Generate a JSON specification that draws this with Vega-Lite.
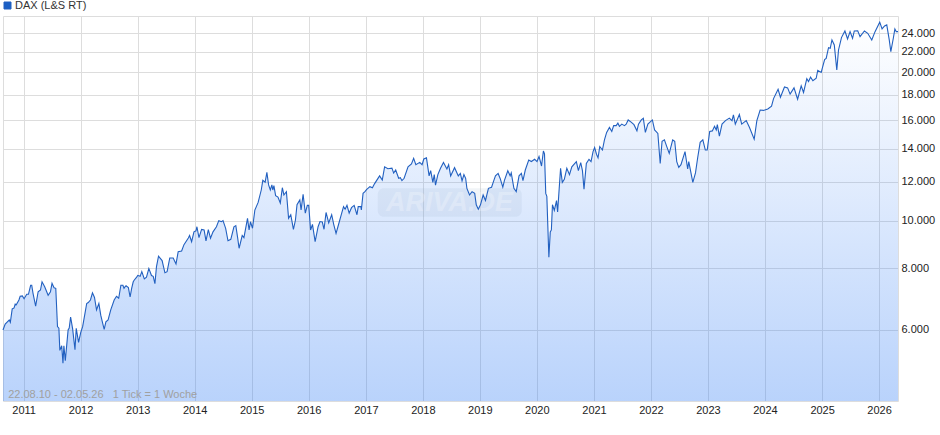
{
  "$schema": "https://vega.github.io/schema/vega-lite/v6.json",
  "autosize": "none",
  "width": 895,
  "height": 385,
  "padding": {"left": 3, "top": 16, "right": 42, "bottom": 34},
  "background": "white",
  "data": {"values": [
    {"d":"2010-08-22","v":6000},{"d":"2010-09-05","v":6170},{"d":"2010-09-19","v":6235},{"d":"2010-10-01","v":6287},{"d":"2010-10-08","v":6217},{"d":"2010-10-20","v":6620},{"d":"2010-11-01","v":6650},{"d":"2010-11-08","v":6770},{"d":"2010-11-15","v":6750},{"d":"2010-12-02","v":6903},{"d":"2010-12-10","v":7025},{"d":"2010-12-24","v":7035},
    {"d":"2011-01-04","v":6945},{"d":"2011-01-21","v":7090},{"d":"2011-02-01","v":7090},{"d":"2011-02-15","v":7395},{"d":"2011-02-22","v":7395},{"d":"2011-03-02","v":7130},{"d":"2011-03-19","v":6710},{"d":"2011-04-04","v":7175},{"d":"2011-04-19","v":7233},{"d":"2011-04-29","v":7515},{"d":"2011-05-16","v":7340},{"d":"2011-06-07","v":7055},{"d":"2011-06-22","v":7175},{"d":"2011-07-02","v":7460},{"d":"2011-07-15","v":7310},{"d":"2011-07-26","v":7290},{"d":"2011-08-06","v":6095},{"d":"2011-08-15","v":6050},{"d":"2011-08-21","v":5455},{"d":"2011-09-02","v":5575},{"d":"2011-09-10","v":5140},{"d":"2011-09-16","v":5575},{"d":"2011-09-25","v":5200},{"d":"2011-10-13","v":6000},{"d":"2011-10-20","v":6055},{"d":"2011-10-29","v":6375},{"d":"2011-11-11","v":6030},{"d":"2011-11-26","v":5470},{"d":"2011-12-04","v":6050},{"d":"2011-12-19","v":5665},
    {"d":"2012-01-02","v":5935},{"d":"2012-01-14","v":6095},{"d":"2012-01-29","v":6485},{"d":"2012-02-09","v":6790},{"d":"2012-02-19","v":6820},{"d":"2012-03-04","v":6903},{"d":"2012-03-17","v":7140},{"d":"2012-03-30","v":6985},{"d":"2012-04-12","v":6590},{"d":"2012-04-27","v":6790},{"d":"2012-05-09","v":6430},{"d":"2012-05-20","v":6215},{"d":"2012-05-31","v":6020},{"d":"2012-06-11","v":6235},{"d":"2012-06-25","v":6287},{"d":"2012-07-12","v":6590},{"d":"2012-08-03","v":6903},{"d":"2012-08-18","v":7025},{"d":"2012-09-01","v":6960},{"d":"2012-09-15","v":7395},{"d":"2012-09-28","v":7395},{"d":"2012-10-05","v":7290},{"d":"2012-10-11","v":7340},{"d":"2012-10-18","v":7375},{"d":"2012-11-02","v":7315},{"d":"2012-11-13","v":7000},{"d":"2012-11-23","v":7290},{"d":"2012-12-03","v":7515},{"d":"2012-12-10","v":7580},{"d":"2012-12-25","v":7680},
    {"d":"2013-01-01","v":7745},{"d":"2013-01-16","v":7710},{"d":"2013-01-27","v":7880},{"d":"2013-02-12","v":7620},{"d":"2013-02-26","v":7680},{"d":"2013-03-13","v":8000},{"d":"2013-03-30","v":7740},{"d":"2013-04-10","v":7710},{"d":"2013-04-21","v":7450},{"d":"2013-05-01","v":8070},{"d":"2013-05-14","v":8470},{"d":"2013-06-06","v":8300},{"d":"2013-06-24","v":7840},{"d":"2013-07-08","v":7880},{"d":"2013-07-25","v":8400},{"d":"2013-08-16","v":8400},{"d":"2013-09-03","v":8170},{"d":"2013-09-17","v":8650},{"d":"2013-10-09","v":8680},{"d":"2013-10-24","v":8940},{"d":"2013-11-21","v":9220},{"d":"2013-11-29","v":9330},{"d":"2013-12-12","v":9065},{"d":"2013-12-27","v":9490},
    {"d":"2014-01-09","v":9535},{"d":"2014-01-15","v":9720},{"d":"2014-01-28","v":9235},{"d":"2014-02-14","v":9600},{"d":"2014-03-02","v":9575},{"d":"2014-03-14","v":9100},{"d":"2014-03-29","v":9590},{"d":"2014-04-12","v":9210},{"d":"2014-04-28","v":9490},{"d":"2014-05-20","v":9720},{"d":"2014-06-04","v":10000},{"d":"2014-06-21","v":9950},{"d":"2014-07-01","v":10000},{"d":"2014-07-18","v":9650},{"d":"2014-08-02","v":9105},{"d":"2014-08-20","v":9165},{"d":"2014-09-09","v":9720},{"d":"2014-09-21","v":9770},{"d":"2014-10-02","v":9270},{"d":"2014-10-12","v":8790},{"d":"2014-11-01","v":9330},{"d":"2014-11-12","v":9235},{"d":"2014-12-05","v":10110},{"d":"2014-12-15","v":9575},{"d":"2014-12-24","v":9950},
    {"d":"2015-01-06","v":9650},{"d":"2015-01-21","v":10510},{"d":"2015-02-11","v":10890},{"d":"2015-03-03","v":11540},{"d":"2015-03-13","v":12075},{"d":"2015-03-28","v":11970},{"d":"2015-04-08","v":12530},{"d":"2015-04-19","v":11820},{"d":"2015-04-30","v":11540},{"d":"2015-05-10","v":11820},{"d":"2015-05-16","v":11540},{"d":"2015-05-23","v":11775},{"d":"2015-06-03","v":11240},{"d":"2015-06-18","v":11165},{"d":"2015-07-03","v":10860},{"d":"2015-07-16","v":11665},{"d":"2015-07-26","v":11275},{"d":"2015-08-11","v":11450},{"d":"2015-08-25","v":10110},{"d":"2015-09-08","v":10280},{"d":"2015-09-25","v":9600},{"d":"2015-10-08","v":10030},{"d":"2015-10-18","v":10770},{"d":"2015-11-05","v":11015},{"d":"2015-11-13","v":10510},{"d":"2015-11-26","v":11310},{"d":"2015-12-10","v":10360},{"d":"2015-12-23","v":10740},
    {"d":"2016-01-01","v":10740},{"d":"2016-01-13","v":9575},{"d":"2016-01-25","v":9830},{"d":"2016-02-11","v":9065},{"d":"2016-03-01","v":9720},{"d":"2016-03-13","v":9960},{"d":"2016-03-28","v":9935},{"d":"2016-04-08","v":9605},{"d":"2016-04-21","v":10390},{"d":"2016-05-08","v":9900},{"d":"2016-05-27","v":10280},{"d":"2016-06-09","v":9830},{"d":"2016-06-24","v":9420},{"d":"2016-07-06","v":9720},{"d":"2016-07-28","v":10300},{"d":"2016-08-11","v":10680},{"d":"2016-08-21","v":10550},{"d":"2016-09-02","v":10740},{"d":"2016-09-16","v":10360},{"d":"2016-10-01","v":10625},{"d":"2016-10-18","v":10740},{"d":"2016-11-05","v":10280},{"d":"2016-11-13","v":10680},{"d":"2016-11-30","v":10680},{"d":"2016-12-03","v":10510},{"d":"2016-12-14","v":11360},{"d":"2016-12-26","v":11450},
    {"d":"2017-01-05","v":11560},{"d":"2017-01-27","v":11720},{"d":"2017-02-12","v":11660},{"d":"2017-02-26","v":11890},{"d":"2017-03-30","v":12330},{"d":"2017-04-16","v":12090},{"d":"2017-05-01","v":12860},{"d":"2017-05-22","v":12750},{"d":"2017-06-17","v":12780},{"d":"2017-06-28","v":12490},{"d":"2017-07-11","v":12670},{"d":"2017-07-30","v":12190},{"d":"2017-08-10","v":12220},{"d":"2017-08-20","v":12055},{"d":"2017-09-03","v":12190},{"d":"2017-09-28","v":12860},{"d":"2017-10-20","v":13030},{"d":"2017-11-03","v":13380},{"d":"2017-11-17","v":12990},{"d":"2017-12-12","v":13130},{"d":"2017-12-27","v":12990},
    {"d":"2018-01-07","v":13340},{"d":"2018-01-24","v":13410},{"d":"2018-02-10","v":12325},{"d":"2018-02-20","v":12630},{"d":"2018-03-06","v":11960},{"d":"2018-03-15","v":12400},{"d":"2018-03-23","v":11810},{"d":"2018-04-07","v":12400},{"d":"2018-04-24","v":12770},{"d":"2018-05-13","v":13130},{"d":"2018-06-04","v":12730},{"d":"2018-06-15","v":12990},{"d":"2018-06-28","v":12325},{"d":"2018-07-23","v":12810},{"d":"2018-08-16","v":12325},{"d":"2018-08-29","v":12470},{"d":"2018-09-09","v":12040},{"d":"2018-09-21","v":12400},{"d":"2018-10-02","v":12190},{"d":"2018-10-10","v":11630},{"d":"2018-10-27","v":11275},{"d":"2018-11-12","v":11450},{"d":"2018-11-29","v":11360},{"d":"2018-12-09","v":10770},{"d":"2018-12-22","v":10550},
    {"d":"2019-01-05","v":10770},{"d":"2019-01-22","v":11275},{"d":"2019-02-06","v":10990},{"d":"2019-02-25","v":11630},{"d":"2019-03-17","v":11690},{"d":"2019-03-29","v":12000},{"d":"2019-04-11","v":12330},{"d":"2019-04-28","v":12470},{"d":"2019-05-11","v":12180},{"d":"2019-05-28","v":11690},{"d":"2019-06-08","v":12090},{"d":"2019-06-29","v":12630},{"d":"2019-07-14","v":12330},{"d":"2019-07-21","v":12500},{"d":"2019-08-07","v":11630},{"d":"2019-08-22","v":11450},{"d":"2019-09-09","v":12330},{"d":"2019-09-24","v":12470},{"d":"2019-10-04","v":12055},{"d":"2019-10-19","v":12670},{"d":"2019-11-10","v":13280},{"d":"2019-11-27","v":13180},{"d":"2019-12-18","v":13320},
    {"d":"2020-01-02","v":13180},{"d":"2020-01-15","v":13500},{"d":"2020-01-31","v":12910},{"d":"2020-02-12","v":13850},{"d":"2020-02-19","v":13670},{"d":"2020-02-27","v":11360},{"d":"2020-03-05","v":11200},{"d":"2020-03-18","v":8430},{"d":"2020-03-27","v":9490},{"d":"2020-04-03","v":9575},{"d":"2020-04-10","v":10770},{"d":"2020-04-22","v":10490},{"d":"2020-05-06","v":10980},{"d":"2020-05-13","v":10420},{"d":"2020-06-01","v":12770},{"d":"2020-06-12","v":11960},{"d":"2020-06-25","v":12130},{"d":"2020-07-11","v":12770},{"d":"2020-07-28","v":12400},{"d":"2020-08-12","v":12860},{"d":"2020-09-10","v":13180},{"d":"2020-09-23","v":12630},{"d":"2020-10-08","v":13110},{"d":"2020-10-19","v":12630},{"d":"2020-10-29","v":11590},{"d":"2020-11-13","v":13060},{"d":"2020-11-30","v":13320},{"d":"2020-12-13","v":13180},{"d":"2020-12-26","v":13810},
    {"d":"2021-01-05","v":14080},{"d":"2021-01-17","v":13640},{"d":"2021-01-27","v":13410},{"d":"2021-02-07","v":14140},{"d":"2021-02-24","v":13910},{"d":"2021-03-09","v":14590},{"d":"2021-03-23","v":15100},{"d":"2021-04-10","v":15460},{"d":"2021-04-25","v":15170},{"d":"2021-05-07","v":15590},{"d":"2021-05-23","v":15590},{"d":"2021-06-03","v":15770},{"d":"2021-06-13","v":15540},{"d":"2021-06-28","v":15700},{"d":"2021-07-15","v":15590},{"d":"2021-07-26","v":15700},{"d":"2021-08-08","v":16010},{"d":"2021-08-27","v":15850},{"d":"2021-09-14","v":15660},{"d":"2021-10-03","v":15220},{"d":"2021-10-13","v":15700},{"d":"2021-10-31","v":16010},{"d":"2021-11-13","v":16130},{"d":"2021-11-26","v":15100},{"d":"2021-12-12","v":15700},
    {"d":"2022-01-10","v":16010},{"d":"2022-01-24","v":15280},{"d":"2022-02-14","v":15030},{"d":"2022-03-01","v":13060},{"d":"2022-03-13","v":14490},{"d":"2022-03-28","v":14590},{"d":"2022-04-11","v":14170},{"d":"2022-04-28","v":13690},{"d":"2022-05-20","v":14580},{"d":"2022-06-02","v":14490},{"d":"2022-06-15","v":13180},{"d":"2022-06-28","v":12830},{"d":"2022-07-12","v":12990},{"d":"2022-08-07","v":13810},{"d":"2022-08-24","v":12730},{"d":"2022-08-31","v":13180},{"d":"2022-09-26","v":11960},{"d":"2022-10-13","v":12500},{"d":"2022-10-27","v":13420},{"d":"2022-11-12","v":14420},{"d":"2022-11-29","v":14590},{"d":"2022-12-15","v":13910},{"d":"2022-12-27","v":13910},
    {"d":"2023-01-12","v":15170},{"d":"2023-01-29","v":15210},{"d":"2023-02-12","v":15540},{"d":"2023-02-23","v":15280},{"d":"2023-03-02","v":15660},{"d":"2023-03-15","v":14850},{"d":"2023-04-01","v":15700},{"d":"2023-04-23","v":15960},{"d":"2023-05-18","v":16150},{"d":"2023-06-04","v":15960},{"d":"2023-06-13","v":16390},{"d":"2023-06-25","v":15700},{"d":"2023-07-21","v":16420},{"d":"2023-08-05","v":15700},{"d":"2023-09-03","v":15960},{"d":"2023-09-24","v":15450},{"d":"2023-10-24","v":14630},{"d":"2023-11-10","v":15960},{"d":"2023-12-01","v":16770},{"d":"2023-12-22","v":16740},
    {"d":"2024-01-19","v":16850},{"d":"2024-02-12","v":17070},{"d":"2024-02-25","v":17690},{"d":"2024-03-25","v":18480},{"d":"2024-04-09","v":17800},{"d":"2024-05-05","v":18680},{"d":"2024-05-25","v":18600},{"d":"2024-06-10","v":18060},{"d":"2024-07-05","v":18600},{"d":"2024-07-28","v":17640},{"d":"2024-08-20","v":18780},{"d":"2024-09-04","v":18200},{"d":"2024-09-25","v":19410},{"d":"2024-10-06","v":19160},{"d":"2024-10-19","v":19560},{"d":"2024-11-03","v":19230},{"d":"2024-11-24","v":19450},{"d":"2024-12-04","v":20190},{"d":"2024-12-26","v":19990},
    {"d":"2025-01-17","v":21230},{"d":"2025-01-27","v":21350},{"d":"2025-02-11","v":22443},{"d":"2025-02-22","v":22375},{"d":"2025-03-05","v":23265},{"d":"2025-03-20","v":22730},{"d":"2025-04-05","v":20222},{"d":"2025-04-16","v":22200},{"d":"2025-05-05","v":23520},{"d":"2025-05-27","v":24260},{"d":"2025-06-13","v":23370},{"d":"2025-06-29","v":24185},{"d":"2025-07-15","v":23450},{"d":"2025-07-26","v":24260},{"d":"2025-08-17","v":24290},{"d":"2025-09-01","v":23625},{"d":"2025-09-29","v":24260},{"d":"2025-10-20","v":24000},{"d":"2025-11-15","v":23265},{"d":"2025-12-06","v":24185},
    {"d":"2026-01-05","v":25280},{"d":"2026-01-20","v":24500},{"d":"2026-02-05","v":24840},{"d":"2026-02-19","v":24960},{"d":"2026-03-07","v":23265},{"d":"2026-03-17","v":22030},{"d":"2026-04-02","v":23450},{"d":"2026-04-12","v":24500},{"d":"2026-04-21","v":24185},{"d":"2026-05-02","v":24185}
  ]},
  "encoding": {
    "x": {
      "field": "d",
      "type": "temporal",
      "title": null,
      "scale": {
        "type": "utc",
        "domain": [
          {"year": 2010, "month": 8, "date": 22, "utc": true},
          {"year": 2026, "month": 5, "date": 2, "utc": true}
        ]
      },
      "axis": {
        "orient": "bottom",
        "values": [
          {"year": 2011, "month": 1, "date": 1, "utc": true},
          {"year": 2012, "month": 1, "date": 1, "utc": true},
          {"year": 2013, "month": 1, "date": 1, "utc": true},
          {"year": 2014, "month": 1, "date": 1, "utc": true},
          {"year": 2015, "month": 1, "date": 1, "utc": true},
          {"year": 2016, "month": 1, "date": 1, "utc": true},
          {"year": 2017, "month": 1, "date": 1, "utc": true},
          {"year": 2018, "month": 1, "date": 1, "utc": true},
          {"year": 2019, "month": 1, "date": 1, "utc": true},
          {"year": 2020, "month": 1, "date": 1, "utc": true},
          {"year": 2021, "month": 1, "date": 1, "utc": true},
          {"year": 2022, "month": 1, "date": 1, "utc": true},
          {"year": 2023, "month": 1, "date": 1, "utc": true},
          {"year": 2024, "month": 1, "date": 1, "utc": true},
          {"year": 2025, "month": 1, "date": 1, "utc": true},
          {"year": 2026, "month": 1, "date": 1, "utc": true}
        ],
        "format": "%Y",
        "labelOverlap": false,
        "labelFlush": false
      }
    },
    "y": {
      "field": "v",
      "type": "quantitative",
      "title": null,
      "stack": null,
      "scale": {"type": "log", "domain": [4306, 26020], "nice": false},
      "axis": {
        "orient": "right",
        "values": [6000, 8000, 10000, 12000, 14000, 16000, 18000, 20000, 22000, 24000],
        "labelExpr": "replace(format(datum.value, ','), ',', '.')",
        "labelOverlap": false,
        "labelFlush": false
      }
    }
  },
  "layer": [
    {
      "mark": {
        "type": "area",
        "fill": {
          "gradient": "linear",
          "x1": 0, "y1": 0, "x2": 0, "y2": 1,
          "stops": [
            {"offset": 0, "color": "rgba(50,125,245,0)"},
            {"offset": 1, "color": "rgba(50,125,245,0.34)"}
          ]
        }
      },
      "encoding": {"y2": {"datum": 4306}}
    },
    {
      "data": {"values": [{"d": "2017-03-18", "d2": "2019-09-26", "v": 11638, "v2": 10180}]},
      "mark": {"type": "rect", "fill": "#8fa3bf", "opacity": 0.12, "cornerRadius": 6},
      "encoding": {
        "x2": {"field": "d2"},
        "y2": {"field": "v2"}
      }
    },
    {
      "data": {"values": [{"d": "2018-06-20", "v": 10860, "label": "ARIVA.DE"}]},
      "mark": {"type": "text", "font": "Liberation Sans", "fontSize": 27, "fontWeight": "bold", "fontStyle": "italic", "color": "#ffffff", "opacity": 0.25},
      "encoding": {"text": {"field": "label"}}
    },
    {
      "data": {"values": [{"d": "2010-09-24", "v": 4428, "label": "22.08.10 - 02.05.26\u00a0\u00a0\u00a01 Tick = 1 Woche"}]},
      "mark": {"type": "text", "align": "left", "font": "Liberation Sans", "fontSize": 11, "color": "#a0a0a0"},
      "encoding": {"text": {"field": "label"}}
    },
    {
      "mark": {"type": "line", "strokeWidth": 1.1, "interpolate": "linear"},
      "encoding": {
        "color": {
          "datum": "DAX (L&S RT)",
          "scale": {"range": ["#2260c0"]},
          "legend": {
            "title": null,
            "orient": "none",
            "legendX": -1,
            "legendY": -16,
            "padding": 0,
            "symbolType": "square",
            "symbolSize": 49,
            "symbolFillColor": "#1a5fc4",
            "labelFont": "Liberation Sans",
            "labelFontSize": 11,
            "labelColor": "#333333",
            "labelOffset": 2,
            "encode": {"symbols": {"update": {"stroke": {"value": "#123a7a"}, "strokeWidth": {"value": 1}}}}
          }
        }
      }
    }
  ],
  "config": {
    "font": "Liberation Sans",
    "view": {"stroke": "#dddddd", "strokeWidth": 1},
    "axis": {
      "grid": true,
      "gridColor": "#dddddd",
      "gridWidth": 1,
      "gridOpacity": 1,
      "domain": false,
      "ticks": false,
      "labelFont": "Liberation Sans",
      "labelFontSize": 11,
      "labelColor": "#222222",
      "labelPadding": 3
    }
  }
}
